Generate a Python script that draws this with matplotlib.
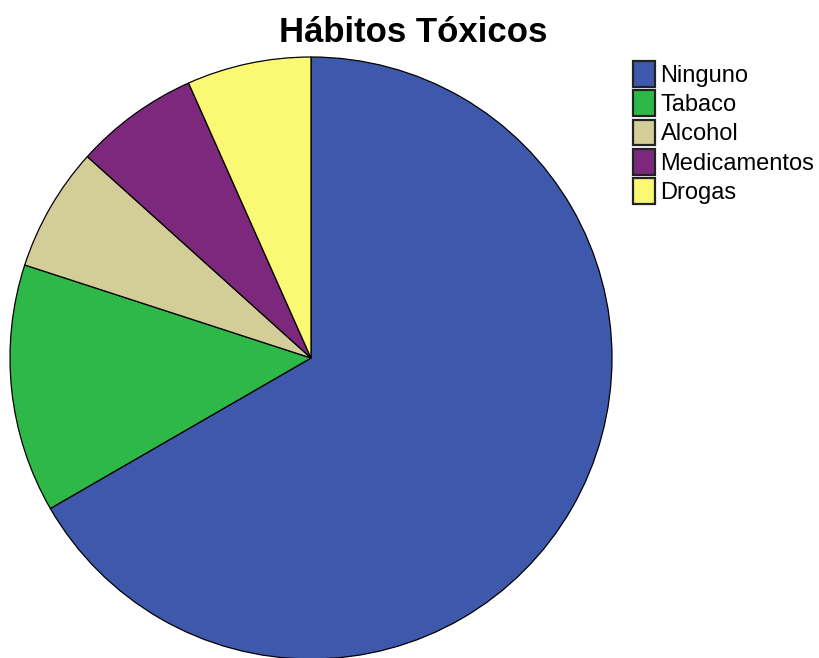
import matplotlib
matplotlib.use('Agg')
import matplotlib.pyplot as plt
from matplotlib.patches import Patch

plt.rcParams['font.family'] = ['Liberation Sans', 'DejaVu Sans']

# --------------------------------------------------------------
# Data
# --------------------------------------------------------------
categorias = ['Ninguno', 'Tabaco', 'Alcohol', 'Medicamentos', 'Drogas']
frecuencias = [20, 4, 2, 2, 2]
colores = ['#3E58AC', '#2EB848', '#D3CE97', '#7C287D', '#FBF873']
titulo = 'Hábitos Tóxicos'

W, H = 820, 658
fig = plt.figure(figsize=(W / 100, H / 100), dpi=100)

# pie box in pixels: center (311, 358), radius 301
cx, cy, r = 311, 358, 301
ax = fig.add_axes([(cx - r) / W, 1 - (cy + r) / H, 2 * r / W, 2 * r / H])
ax.pie(frecuencias, colors=colores, startangle=90, counterclock=False,
       radius=1.0, wedgeprops=dict(edgecolor='black', linewidth=0.9))
ax.set_xlim(-1.0, 1.0)
ax.set_ylim(-1.0, 1.0)
ax.set_aspect('auto')
ax.axis('off')

fig.text(413 / W, 1 - 42 / H, titulo, ha='center', va='baseline',
         fontsize=25, fontweight='bold')

handles = [Patch(facecolor=c, edgecolor='#222222', linewidth=1.6) for c in colores]
fig.legend(handles, categorias, loc='upper left',
           bbox_to_anchor=(633 / W, 1 - 61 / H), frameon=False,
           fontsize=17, handlelength=0.95, handleheight=1.3,
           handletextpad=0.22, labelspacing=0.15, borderpad=0,
           borderaxespad=0)

fig.savefig('out.png', dpi=100)
